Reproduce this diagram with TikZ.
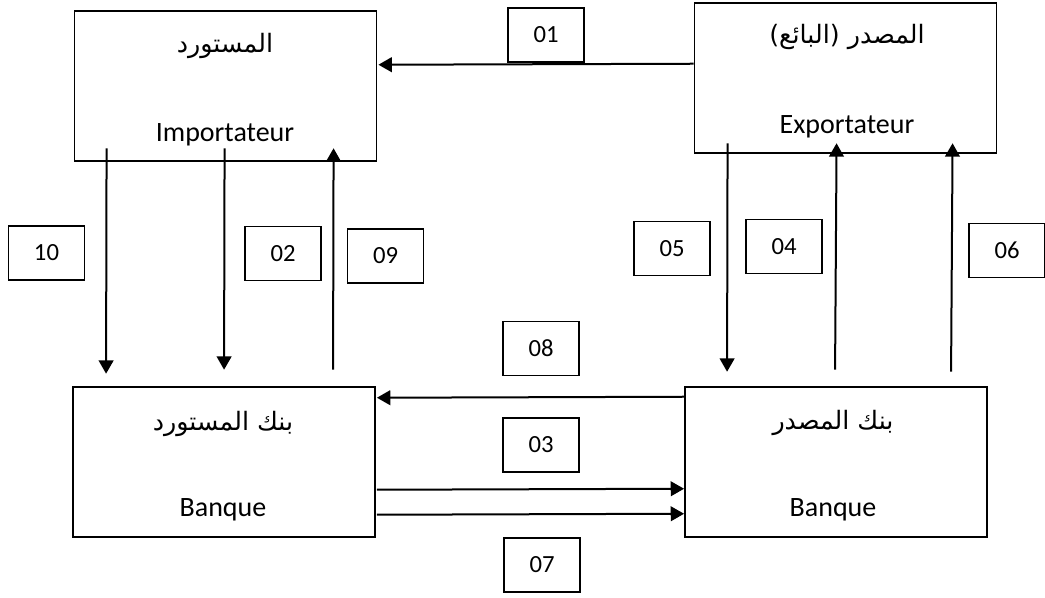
\documentclass[tikz,border=0pt]{standalone}
\usepackage{fontspec}
\setmainfont{Carlito}
\newfontfamily\arabicfont[Script=Arabic]{DejaVu Sans}
\TeXXeTstate=1
\usetikzlibrary{arrows.meta,calc}
\begin{document}
\begin{tikzpicture}[x=0.75pt,y=-0.75pt,
  bigbox/.style={draw,line width=1.4pt,minimum width=226.5pt,minimum height=113pt,inner sep=0pt},
  numbox/.style={draw,line width=1.1pt,minimum width=57pt,minimum height=40.5pt,inner sep=0pt,font=\fontsize{18.5}{20}\selectfont},
  lat/.style={font=\fontsize{21}{23}\selectfont,inner sep=0pt},
  ar/.style={font=\fontsize{19}{22}\selectfont\arabicfont,inner sep=0pt},
  arr/.style={line width=1.5pt,-{Triangle[length=10pt,width=11pt]}}]
\useasboundingbox (0,0) rectangle (1045,597);
% main boxes
\node[bigbox] (imp) at (225.5,86) {};
\node[bigbox] (exp) at (845.5,78) {};
\node[bigbox] (bimp) at (224,462) {};
\node[bigbox] (bexp) at (836,462) {};
% texts
\node[ar] (impA) at (225,46) {\beginR المستورد\endR};
\node[lat] (impL) at (225,135) {Importateur};
\node[ar] (expA) at (847,37) {\beginR المصدر (البائع)\endR};
\node[lat] (expL) at (847,127) {Exportateur};
\node[ar] (bimpA) at (223,424) {\beginR بنك المستورد\endR};
\node[lat] (bimpL) at (223,510) {Banque};
\node[ar] (bexpA) at (833,423) {\beginR بنك المصدر\endR};
\node[lat] (bexpL) at (833,510) {Banque};
% number boxes
\node[numbox] (n01) at (546,35) {01};
\node[numbox] (n10) at (46.5,253) {10};
\node[numbox] (n02) at (283,253.5) {02};
\node[numbox] (n09) at (385.5,256) {09};
\node[numbox] (n05) at (672,248.5) {05};
\node[numbox] (n04) at (784,246.5) {04};
\node[numbox] (n06) at (1007,250.5) {06};
\node[numbox] (n08) at (541,348.5) {08};
\node[numbox] (n03) at (541,445) {03};
\node[numbox] (n07) at (542,565) {07};
% arrow end points
\coordinate (a10s) at ($(imp.south west)+(33,-14)$);
\coordinate (a10e) at ($(bimp.north west)+(34,-12)$);
\coordinate (a02s) at ($(imp.south west)+(151,-14)$);
\coordinate (a02e) at ($(bimp.north west)+(152,-16)$);
\coordinate (a09s) at ($(bimp.north west)+(261,-16)$);
\coordinate (a09e) at ($(imp.south west)+(260,-14)$);
\coordinate (a05s) at ($(exp.south west)+(34,-11)$);
\coordinate (a05e) at ($(bexp.north west)+(43,-14)$);
\coordinate (a04s) at ($(bexp.north west)+(151,-16)$);
\coordinate (a04e) at ($(exp.south west)+(143,-11)$);
\coordinate (a06s) at ($(bexp.north west)+(267,-14)$);
\coordinate (a06e) at ($(exp.south west)+(259,-11)$);
% connectors
\draw[arr] ($(exp.north west)+(0,62)$) -- ($(imp.north east)+(1,55)$);
\draw[arr] (a10s) -- (a10e);
\draw[arr] (a02s) -- (a02e);
\draw[arr] (a09s) -- (a09e);
\draw[arr] (a05s) -- (a05e);
\draw[arr] (a04s) -- (a04e);
\draw[arr] (a06s) -- (a06e);
\draw[arr] ($(bexp.north west)+(0,11)$) -- ($(bimp.north east)+(1,12)$);
\draw[arr] ($(bimp.north east)+(1,104)$) -- ($(bexp.north west)+(0,103)$);
\draw[arr] ($(bimp.north east)+(1,129)$) -- ($(bexp.north west)+(0,128)$);
\end{tikzpicture}
\end{document}
